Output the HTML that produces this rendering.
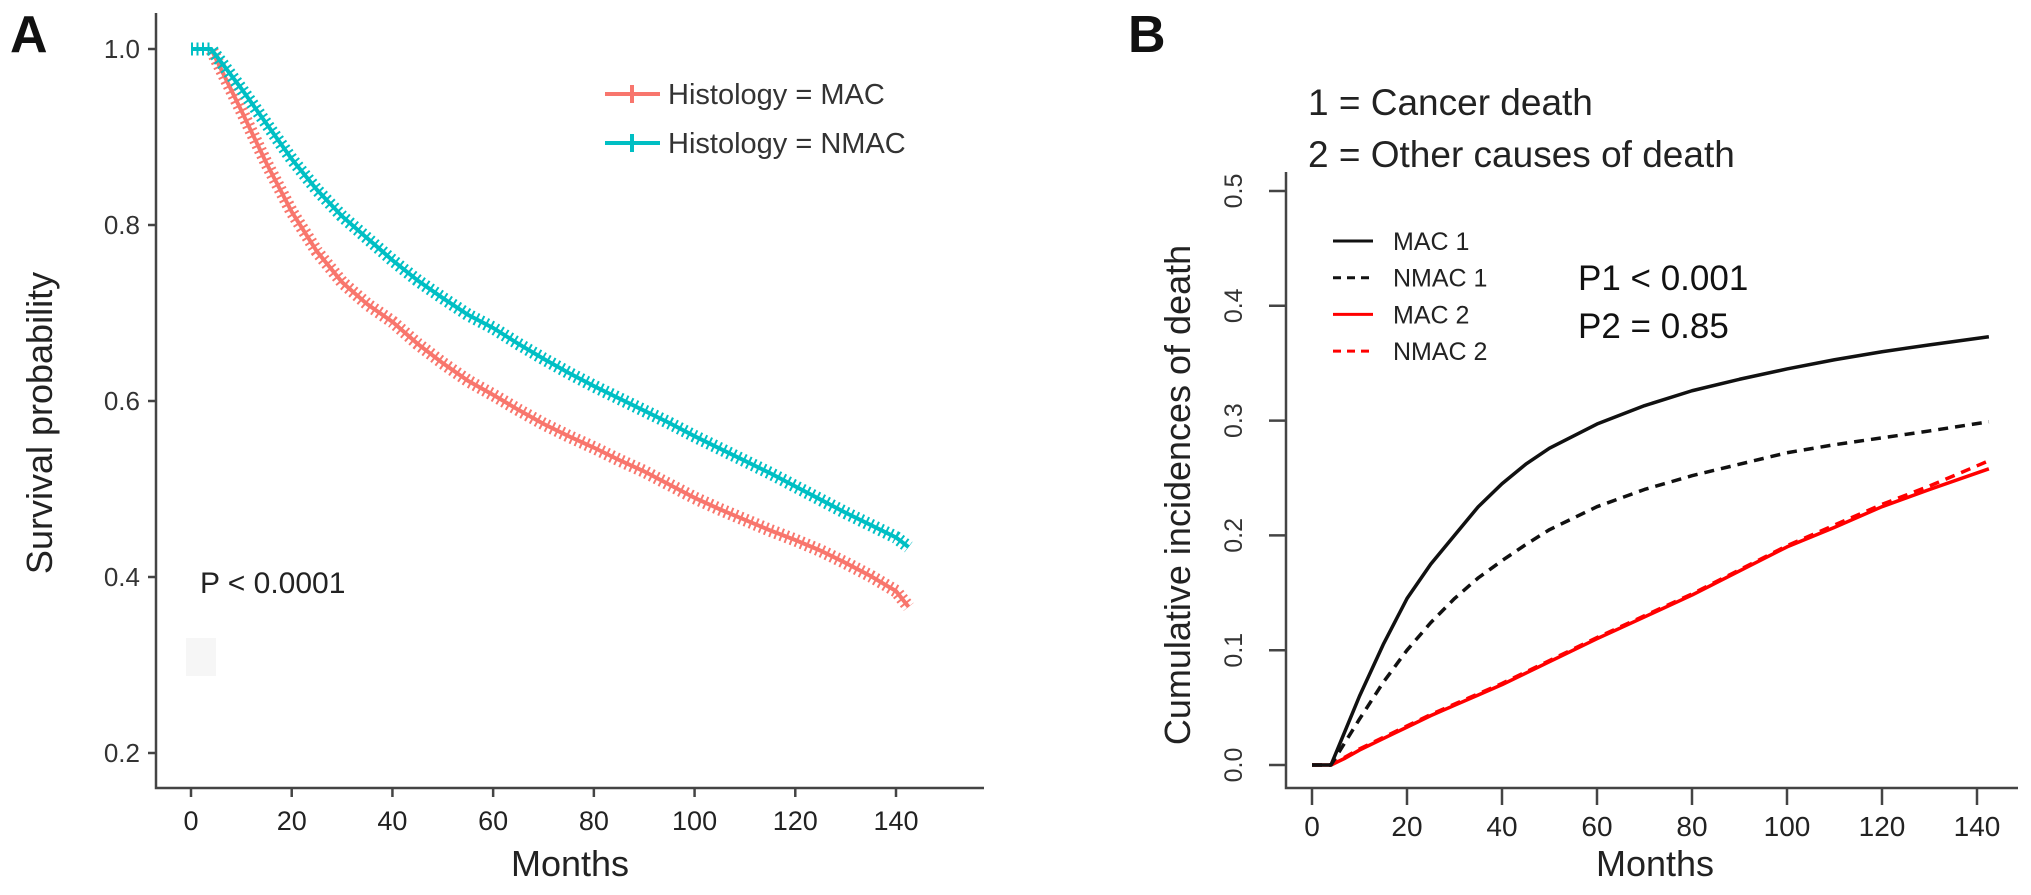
<!DOCTYPE html>
<html><head><meta charset="utf-8"><style>
html,body{margin:0;padding:0;background:#fff;}
svg{display:block;font-family:"Liberation Sans",Arial,sans-serif;}
</style></head><body>
<svg id="chart" width="2031" height="895" viewBox="0 0 2031 895">
<g id="pa"></g>
<g id="pb"></g>
</svg>
<script>
// ---- Panel A data ----
const kmMonths = [0,4,10,15,20,25,30,35,40,45,50,55,60,65,70,75,80,85,90,95,100,105,110,115,120,125,130,135,140,142.5];
const kmMAC  = [1,1,0.93,0.87,0.815,0.77,0.735,0.71,0.69,0.665,0.643,0.623,0.607,0.59,0.574,0.56,0.547,0.533,0.52,0.505,0.49,0.477,0.465,0.453,0.442,0.43,0.416,0.401,0.384,0.366];
const kmNMAC = [1,1,0.955,0.915,0.875,0.84,0.81,0.785,0.76,0.737,0.717,0.698,0.683,0.665,0.648,0.632,0.617,0.603,0.589,0.575,0.56,0.546,0.532,0.518,0.503,0.488,0.473,0.459,0.445,0.434];
const aXTicks = [0,20,40,60,80,100,120,140];
const aYTicks = [0.2,0.4,0.6,0.8,1.0];
// ---- Panel B data ----
const ciMonths = [0,4,7,10,15,20,25,30,35,40,45,50,60,70,80,90,100,110,120,130,142.5];
const ciMAC1  = [0,0,0.03,0.06,0.105,0.145,0.175,0.2,0.225,0.245,0.262,0.276,0.297,0.313,0.326,0.336,0.345,0.353,0.36,0.366,0.373];
const ciNMAC1 = [0,0,0.02,0.04,0.072,0.1,0.124,0.145,0.163,0.178,0.192,0.205,0.225,0.24,0.252,0.262,0.272,0.279,0.285,0.291,0.299];
const ciMAC2  = [0,0,0.006,0.013,0.023,0.033,0.043,0.052,0.061,0.07,0.08,0.09,0.11,0.129,0.148,0.169,0.19,0.207,0.225,0.24,0.258];
const ciNMAC2 = [0,0,0.007,0.014,0.024,0.034,0.044,0.053,0.062,0.071,0.081,0.091,0.111,0.13,0.149,0.17,0.191,0.209,0.227,0.243,0.265];
const bXTicks = [0,20,40,60,80,100,120,140];
const bYTicks = [0.0,0.1,0.2,0.3,0.4,0.5];

const NS="http://www.w3.org/2000/svg";
function mk(parent,tag,attrs,text){const e=document.createElementNS(NS,tag);for(const k in attrs)e.setAttribute(k,attrs[k]);if(text!==undefined)e.textContent=text;parent.appendChild(e);return e;}

// Panel A scales
const axA = m => 191 + m*(896-191)/140;
const ayA = v => 49 + (1-v)*(753-49)/0.8;
const pa=document.getElementById('pa');
let t=mk(pa,'text',{x:10,y:52,'font-size':52,'font-weight':'bold',fill:'#111'},'A');


let l=mk(pa,'path',{d:'M156,13 V788 H984',stroke:'#444','stroke-width':2.5,fill:'none'});


aYTicks.forEach(v=>{
  const y=ayA(v);
  const tk=mk(pa,'line',{x1:148,x2:156,y1:y,y2:y,stroke:'#444','stroke-width':2.5});
  
  
  const tl=mk(pa,'text',{x:140,y:y+9,'font-size':26,'text-anchor':'end',fill:'#333'},v.toFixed(1));
  
  
});
aXTicks.forEach(m=>{
  const x=axA(m);
  const tk=mk(pa,'line',{x1:x,x2:x,y1:788,y2:797,stroke:'#444','stroke-width':2.5});
  
  
  const tl=mk(pa,'text',{x:x,y:830,'font-size':27,'text-anchor':'middle',fill:'#222'},m);
  
  
});
t=mk(pa,'text',{x:570,y:876,'font-size':36,'text-anchor':'middle',fill:'#222'},'Months');


t=mk(pa,'text',{x:0,y:0,'font-size':36,'text-anchor':'middle',fill:'#222',transform:'translate(52,423) rotate(-90)'},'Survival probability');


t=mk(pa,'text',{x:200,y:593,'font-size':30,fill:'#222'},'P < 0.0001');


mk(pa,'rect',{x:186,y:638,width:30,height:38,fill:'#f6f6f6'});

function kmPath(xs,ys){
  let d='M'+axA(xs[0])+','+ayA(ys[0]);
  for(let i=1;i<xs.length;i++){d+=' L'+axA(xs[i])+','+ayA(ys[i]);}
  return d;
}
[[kmMAC,'#f8766d','mac'],[kmNMAC,'#00bfc4','nmac']].forEach(([ys,c,n])=>{
  const d=kmPath(kmMonths,ys);
  const p=mk(pa,'path',{d:d,stroke:c,'stroke-width':4,fill:'none'});
  
  
  const ck=mk(pa,'path',{d:d,stroke:c,'stroke-width':13,fill:'none','stroke-dasharray':'2 3.5'});
  
  
});
// legend A
[['Histology = MAC','#f8766d',94],['Histology = NMAC','#00bfc4',143]].forEach(([s,c,y],i)=>{
  const g=mk(pa,'g',{});
  
  
  mk(g,'line',{x1:605,x2:660,y1:y,y2:y,stroke:c,'stroke-width':4});
  mk(g,'line',{x1:632,x2:632,y1:y-9,y2:y+9,stroke:c,'stroke-width':4});
  mk(g,'text',{x:668,y:y+10,'font-size':29,fill:'#333'},s);
});

// Panel B scales
const axB = m => 1312 + m*(1977-1312)/140;
const ayB = v => 765 - v*(765-191)/0.5;
const pb=document.getElementById('pb');
t=mk(pb,'text',{x:1128,y:52,'font-size':52,'font-weight':'bold',fill:'#111'},'B');


t=mk(pb,'text',{x:1308,y:115,'font-size':37,fill:'#222'},'1 = Cancer death');


t=mk(pb,'text',{x:1308,y:167,'font-size':37,fill:'#222'},'2 = Other causes of death');


l=mk(pb,'path',{d:'M1286,172 V788 H2018',stroke:'#444','stroke-width':2.5,fill:'none'});


bYTicks.forEach(v=>{
  const y=ayB(v);
  const tk=mk(pb,'line',{x1:1269,x2:1286,y1:y,y2:y,stroke:'#444','stroke-width':2.5});
  
  
  const tl=mk(pb,'text',{x:0,y:0,'font-size':25,'text-anchor':'middle',fill:'#333',transform:`translate(1242,${y}) rotate(-90)`},v.toFixed(1));
  
  
});
bXTicks.forEach(m=>{
  const x=axB(m);
  const tk=mk(pb,'line',{x1:x,x2:x,y1:788,y2:805,stroke:'#444','stroke-width':2.5});
  
  
  const tl=mk(pb,'text',{x:x,y:836,'font-size':28,'text-anchor':'middle',fill:'#222'},m);
  
  
});
t=mk(pb,'text',{x:1655,y:876,'font-size':36,'text-anchor':'middle',fill:'#222'},'Months');


t=mk(pb,'text',{x:0,y:0,'font-size':36,'text-anchor':'middle',fill:'#222',transform:'translate(1190,495) rotate(-90)'},'Cumulative incidences of death');


t=mk(pb,'text',{x:1578,y:290,'font-size':35,fill:'#111'},'P1 < 0.001');


t=mk(pb,'text',{x:1578,y:338,'font-size':35,fill:'#111'},'P2 = 0.85');


function ciPath(xs,ys){
  let d='M'+axB(xs[0])+','+ayB(ys[0]);
  for(let i=1;i<xs.length;i++){d+=' L'+axB(xs[i])+','+ayB(ys[i]);}
  return d;
}
const series=[[ciMAC2,'#f00','',  'mac-2'],[ciNMAC2,'#f00','10 7','nmac-2'],[ciNMAC1,'#111','10 7','nmac-1'],[ciMAC1,'#111','','mac-1']];
series.forEach(([ys,c,da,n])=>{
  const p=mk(pb,'path',{d:ciPath(ciMonths,ys),stroke:c,'stroke-width':3.5,fill:'none','stroke-dasharray':da,'stroke-linejoin':'round'});
  
  
});
[['MAC 1','#111',''],['NMAC 1','#111','8 6'],['MAC 2','#f00',''],['NMAC 2','#f00','8 6']].forEach(([s,c,da],i)=>{
  const y=241+i*36.7;
  const g=mk(pb,'g',{});
  
  
  mk(g,'line',{x1:1333,x2:1373,y1:y,y2:y,stroke:c,'stroke-width':3,'stroke-dasharray':da});
  mk(g,'text',{x:1393,y:y+9,'font-size':25,fill:'#222'},s);
});
</script>
</body></html>
